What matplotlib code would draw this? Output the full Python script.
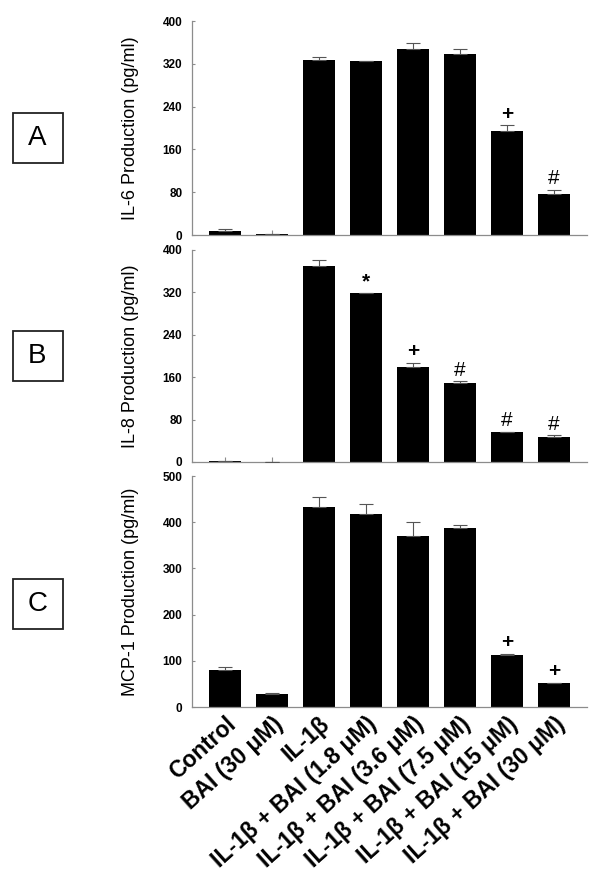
import numpy as np
import matplotlib
matplotlib.use("Agg")
import matplotlib.pyplot as plt
from matplotlib.patches import Rectangle

plt.rcParams['font.family'] = ['Liberation Sans', 'DejaVu Sans']

# groups along the x axis
groups = ["Control", "BAI (30 μM)", "IL-1β", "IL-1β + BAI (1.8 μM)",
          "IL-1β + BAI (3.6 μM)", "IL-1β + BAI (7.5 μM)",
          "IL-1β + BAI (15 μM)", "IL-1β + BAI (30 μM)"]

# panel A: IL-6
il6 = [8, 2, 328, 325, 348, 339, 194, 76]
il6_err = [3, 0.5, 4, 1, 11, 9, 11, 9]
il6_sig = ["", "", "", "", "", "", "+", "#"]

# panel B: IL-8
il8 = [1, 0, 370, 318, 179, 149, 56, 48]
il8_err = [1, 0, 11, 1, 8, 3, 1.5, 2.5]
il8_sig = ["", "", "", "*", "+", "#", "#", "#"]

# panel C: MCP-1
mcp1 = [81, 28, 432, 417, 370, 387, 113, 51]
mcp1_err = [6, 1.5, 23, 22, 30, 8, 1.5, 1]
mcp1_sig = ["", "", "", "", "", "", "+", "+"]

panels = [
    ("A", "IL-6 Production (pg/ml)", il6, il6_err, il6_sig, 400, 80),
    ("B", "IL-8 Production (pg/ml)", il8, il8_err, il8_sig, 400, 80),
    ("C", "MCP-1 Production (pg/ml)", mcp1, mcp1_err, mcp1_sig, 500, 100),
]

W, H = 600, 875
fig = plt.figure(figsize=(W / 100, H / 100), dpi=100)

# axes boxes in pixels: (top, bottom)
boxes_px = [(21, 235), (250, 462), (476, 707)]
box_centers = [138, 356, 604]
x0, x1 = 192, 587

x = np.arange(len(groups))
AXCOL = "#8c8c8c"

for i, (letter, ylabel, vals, errs, sig, ymax, ystep) in enumerate(panels):
    top, bot = boxes_px[i]
    ax = fig.add_axes([x0 / W, 1 - bot / H, (x1 - x0) / W, (bot - top) / H])
    ax.set_axisbelow(True)
    ax.bar(x, vals, width=0.68, color="black", zorder=2)
    ax.errorbar(x, vals, yerr=[np.zeros(len(vals)), errs], fmt="none",
                ecolor="#555555", elinewidth=0.8, capsize=5, capthick=0.8, zorder=3)
    for xi, v, e, s in zip(x, vals, errs, sig):
        if s:
            bold = s in ("+", "*")
            ax.annotate(s, (xi, v + e), xytext=(0, 8), textcoords="offset points",
                        ha="center", va="center", fontsize=15,
                        fontweight="bold" if bold else "normal")
    ax.set_xlim(-0.7, len(groups) - 0.3)
    ax.set_ylim(0, ymax)
    ax.set_yticks(np.arange(0, ymax + 1, ystep))
    for sp in ("top", "right"):
        ax.spines[sp].set_visible(False)
    for sp in ("left", "bottom"):
        ax.spines[sp].set_color(AXCOL)
        ax.spines[sp].set_linewidth(0.9)
    ax.tick_params(axis="y", direction="in", length=2.5, color=AXCOL, pad=7,
                   labelsize=8.5)
    for lab in ax.get_yticklabels():
        lab.set_fontweight("bold")
    ax.tick_params(axis="x", direction="in", length=3.5, color=AXCOL, pad=4)
    ax.set_xticks(x)
    if i < 2:
        ax.set_xticklabels([])
    else:
        ax.set_xticklabels(groups, rotation=42, ha="right", va="top",
                           rotation_mode="anchor", fontsize=16.5, fontweight="bold")
    ax.set_ylabel(ylabel, fontsize=13)
    ax.yaxis.set_label_coords((139 - x0) / (x1 - x0), 0.5)

    # letter box
    cy = box_centers[i]
    fig.patches.append(Rectangle(((12.5) / W, 1 - (cy + 25) / H), 50 / W, 50 / H,
                                 transform=fig.transFigure, fill=False,
                                 edgecolor="#222222", linewidth=1.3))
    fig.text(37.5 / W, 1 - cy / H, letter, ha="center", va="center", fontsize=20)

fig.savefig("out.png", dpi=100, facecolor="white")
